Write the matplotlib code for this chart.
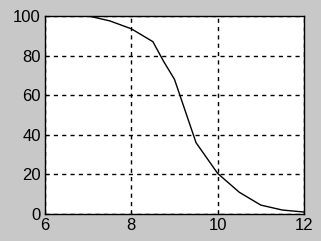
import matplotlib
matplotlib.use('Agg')
import matplotlib.pyplot as plt

# values
x_vals = [7.0, 7.5, 8.0, 8.5, 8.75, 9.0, 9.25, 9.5, 10.0, 10.5, 11.0, 11.5, 12.0]
y_vals = [100, 97.5, 93.5, 87, 77, 68, 52, 36, 20.5, 11, 4.5, 2, 1]

x_ticks = [6, 8, 10, 12]
y_ticks = [0, 20, 40, 60, 80, 100]

plt.rcParams['font.family'] = ['Liberation Sans', 'DejaVu Sans']

fig = plt.figure(figsize=(3.21, 2.41), dpi=100, facecolor='#c8c8c8')
ax = fig.add_axes([0.140, 0.112, 0.807, 0.822])
ax.set_facecolor('white')

ax.plot(x_vals, y_vals, color='black', linewidth=1.0)

ax.set_xlim(6, 12)
ax.set_ylim(0, 100)
ax.set_xticks(x_ticks)
ax.set_yticks(y_ticks)
ax.grid(True, color='black', linestyle=(0, (3, 3)), linewidth=1.0)
ax.tick_params(direction='in', length=3, labelsize=12, pad=3, colors='black')
for s in ax.spines.values():
    s.set_color('black')
    s.set_linewidth(1.0)

fig.savefig('out.png', dpi=100, facecolor=fig.get_facecolor())
